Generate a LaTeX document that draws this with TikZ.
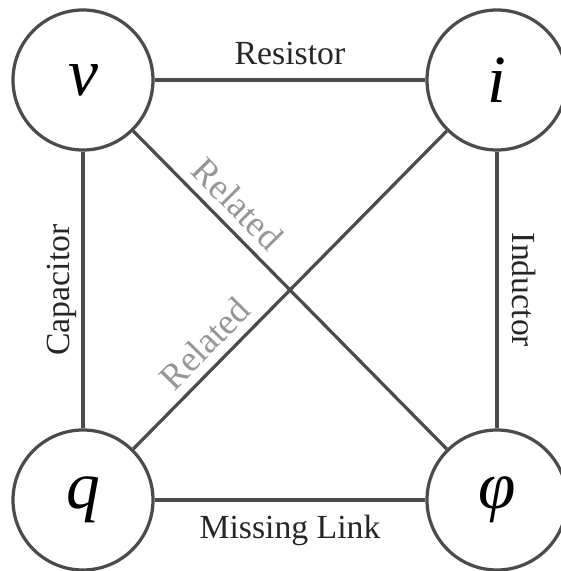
\documentclass[tikz,border=0pt]{standalone}
\usepackage{fontspec}
\setmainfont{Liberation Serif}
\definecolor{edgegray}{RGB}{75,75,75}
\definecolor{relgray}{RGB}{150,150,150}
\begin{document}
\begin{tikzpicture}[line width=2.3pt, draw=edgegray]

    \tikzset{quantity/.style={%
      draw,%
      circle,%
      inner sep=0pt,%
      minimum size=3.5cm,%
      font=\fontsize{48}{56}\selectfont\itshape}%
    };

    \tikzset{element/.style={text=black!85, font=\fontsize{24}{28}\selectfont}};
    \tikzset{related/.style={element, text=relgray, font=\fontsize{26}{30}\selectfont,
      sloped, above=3pt, pos=0.28}};

    \useasboundingbox (0, 0) rectangle (14.025, 14.275);

    %%%%%%%%%%%%%%%%
    %  quantities  %
    %%%%%%%%%%%%%%%%
    \path (2.075, 12.275) node [quantity] (v) {v};
    \path (12.425, 12.275) node [quantity] (i) {i};
    \path (2.075, 1.775) node [quantity] (q) {q};
    \path (12.425, 1.775) node [quantity] (phi) {φ};

    \draw (v) -- (i) node [element, midway, above=6pt] {Resistor};
    \draw (q) -- (v) node [element, midway, above=0pt, sloped] {Capacitor};
    \draw (i) -- (phi) node [element, midway, above=6pt, sloped] {Inductor};
    \draw (q) -- (phi) node [element, midway, below=6pt] {Missing Link};
    \draw (v) -- (phi) node [related] {Related};
    \draw (q) -- (i) node [related] {Related};

  \end{tikzpicture}
\end{document}
